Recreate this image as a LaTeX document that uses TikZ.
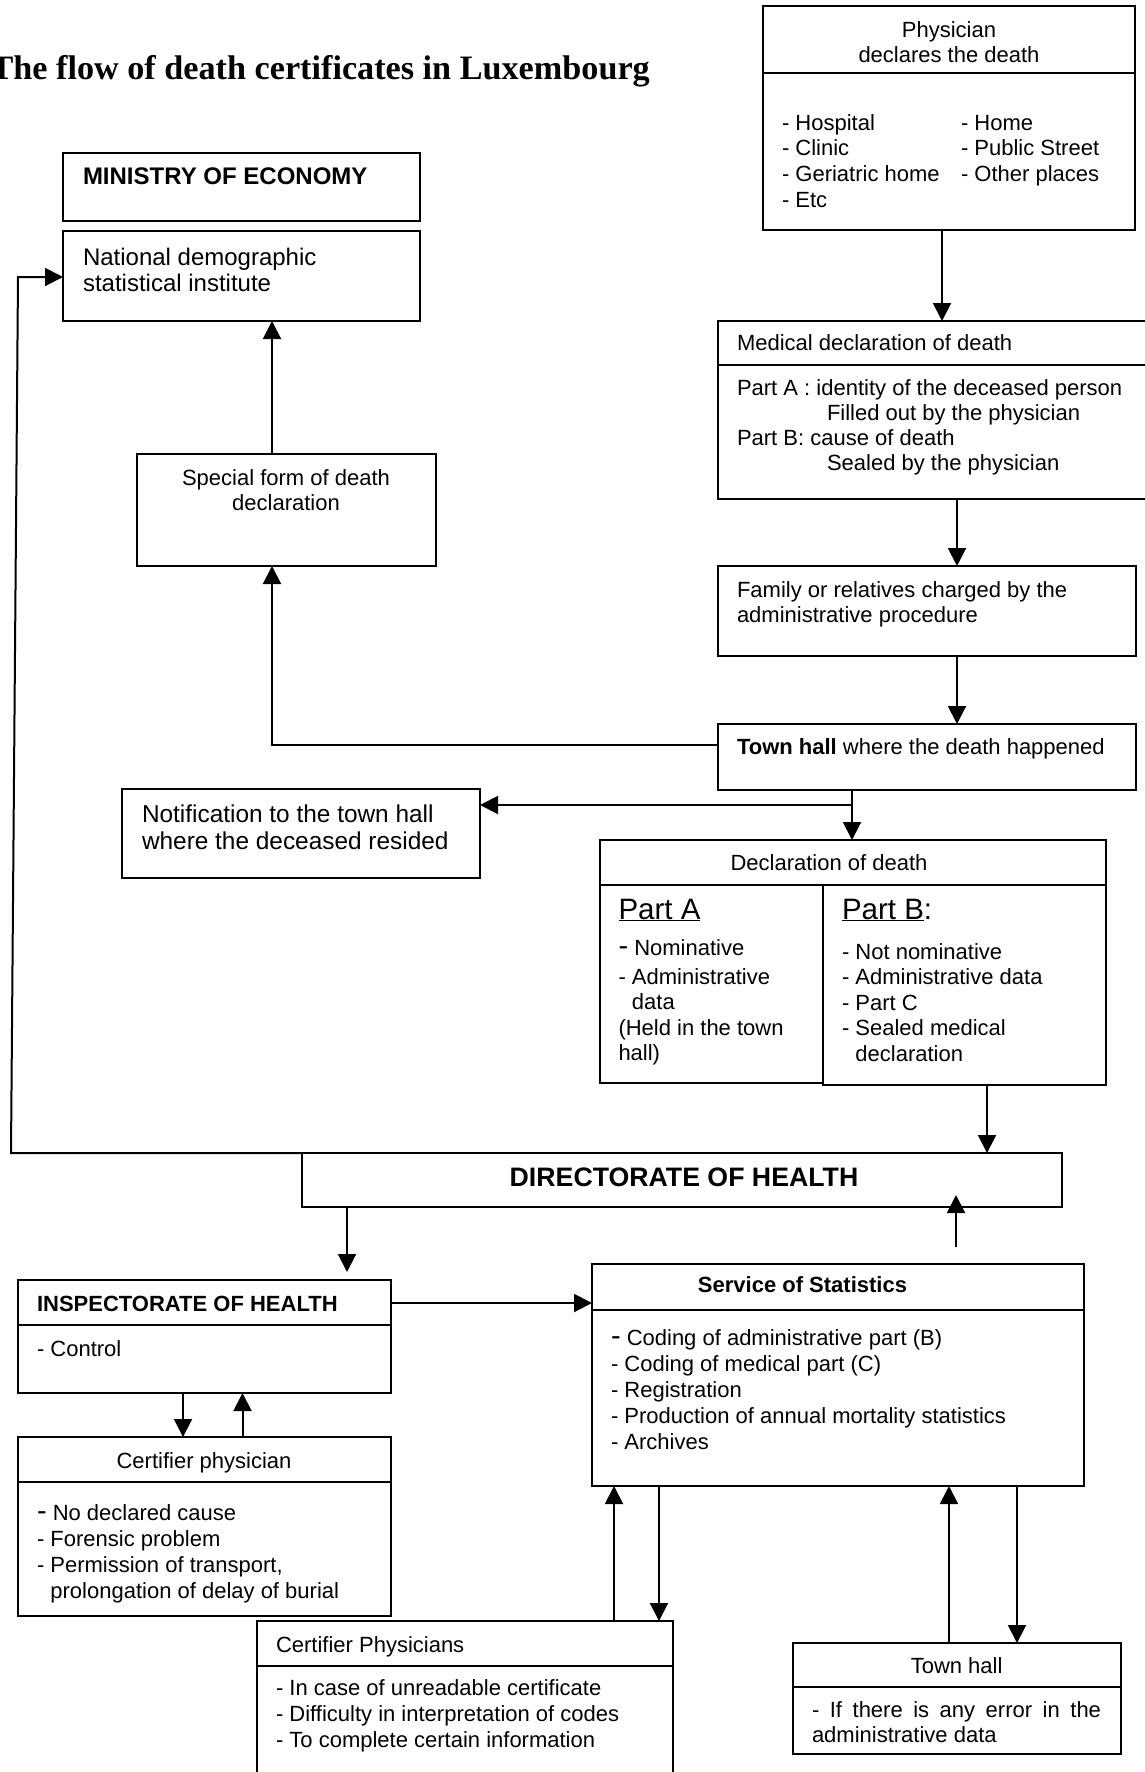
\documentclass[tikz,border=0pt]{standalone}
\usepackage{fontspec}
\setmainfont{Liberation Sans}
\newfontfamily\serifttl{Liberation Serif}
\usetikzlibrary{arrows.meta}
\newcommand\lns[2][l]{\begin{tabular}[t]{@{}#1@{}}#2\end{tabular}}
\newcommand\bigdash{{\fontsize{29}{29}\selectfont -}}
\newcommand\mybox[5]{\pgfmathsetmacro\bw{#4-#2}\pgfmathsetmacro\bh{#5-#3}%
  \node[box,anchor=north west,minimum width=\bw pt,minimum height=\bh pt] (#1) at (#2,#3) {};}
\tikzset{
  box/.style={draw,line width=2pt,inner sep=0pt,outer sep=0pt},
  ln/.style={line width=2pt},
  arr/.style={line width=2pt,-{Triangle[length=18pt,width=18pt]}},
  txt/.style={inner sep=0pt,outer sep=0pt,anchor=base west,font=\fontsize{22}{25.6}\selectfont},
}
\begin{document}
\begin{tikzpicture}[x=1pt,y=-1pt]
\useasboundingbox (0,0) rectangle (1144,1772);

% title
\node[inner sep=0pt,anchor=base east,font=\serifttl\bfseries\fontsize{34.2}{36}\selectfont] (title) at (650,79) {The flow of death certificates in Luxembourg};

% boxes
\mybox{ministry}{63}{153}{420}{221}
\mybox{nat}{63}{231}{420}{321}
\mybox{phys}{763}{6}{1135}{230}
\draw[ln] (763,73) -- (1135,73);
\mybox{med}{718}{321}{1150}{499}
\draw[ln] (718,365) -- (1150,365);
\mybox{special}{137}{454}{436}{566}
\mybox{family}{718}{566}{1136}{656}
\mybox{town}{718}{724}{1136}{790}
\mybox{notif}{122}{789}{480}{878}
\mybox{decl}{600}{840}{1106}{885}
\mybox{declA}{600}{885}{823}{1083}
\mybox{declB}{823}{885}{1106}{1085}
\mybox{dir}{302}{1153}{1062}{1207}
\mybox{insp}{18}{1280}{391}{1393}
\draw[ln] (18,1325) -- (391,1325);
\mybox{cert}{18}{1437}{391}{1616}
\draw[ln] (18,1482) -- (391,1482);
\mybox{svc}{592}{1264}{1084}{1486}
\draw[ln] (592,1310) -- (1084,1310);
\mybox{certs}{257}{1621}{673}{1785}
\draw[ln] (257,1666) -- (673,1666);
\mybox{townb}{793}{1643}{1121}{1754}
\draw[ln] (793,1687) -- (1121,1687);

% texts
\node[txt,font=\bfseries\fontsize{24}{26}\selectfont] (tmin) at (83,184) {MINISTRY OF ECONOMY};
\node[txt,font=\fontsize{24}{26}\selectfont] (tnat) at (83,265) {\lns{National demographic\\statistical institute}};
\node[txt,anchor=base,font=\fontsize{22}{25}\selectfont] (tphys) at (949,37) {\lns[c]{Physician\\declares the death}};
\node[txt,font=\fontsize{22}{25.7}\selectfont] (tpl1) at (782,130) {\lns{- Hospital\\- Clinic\\- Geriatric home\\- Etc}};
\node[txt,font=\fontsize{22}{25.7}\selectfont] (tpl2) at (961,130) {\lns{- Home\\- Public Street\\- Other places}};
\node[txt] (tmed) at (737,350) {Medical declaration of death};
\node[txt,font=\fontsize{22}{25.3}\selectfont] (tmedb) at (737,395) {\lns{Part A : identity of the deceased person\\\hspace*{90pt}Filled out by the physician\\Part B: cause of death\\\hspace*{90pt}Sealed by the physician}};
\node[txt,anchor=base,font=\fontsize{22}{25}\selectfont] (tspec) at (286,485) {\lns[c]{Special form of death\\declaration}};
\node[txt,font=\fontsize{22}{25.5}\selectfont] (tfam) at (737,597) {\lns{Family or relatives charged by the\\administrative procedure}};
\node[txt] (ttown) at (737,754) {\textbf{Town hall} where the death happened};
\node[txt,font=\fontsize{24.4}{27}\selectfont] (tnotif) at (142,822) {\lns{Notification to the town hall\\where the deceased resided}};
\node[txt,anchor=base] (tdecl) at (829,870) {Declaration of death};
\node[txt,font=\fontsize{29.5}{30}\selectfont] (tpa) at (618.5,919) {\underline{Part A}};
\node[txt] (tpa1) at (618.5,955) {\bigdash{} Nominative};
\node[txt,font=\fontsize{22}{25.5}\selectfont] (tpa2) at (618.5,984) {\lns{- Administrative\\\phantom{- }data\\(Held in the town\\hall)}};
\node[txt,font=\fontsize{29.5}{30}\selectfont] (tpb) at (842,919) {\underline{Part B}:};
\node[txt,font=\fontsize{22}{25.5}\selectfont] (tpb1) at (842,959) {\lns{- Not nominative\\- Administrative data\\- Part C\\- Sealed medical\\\phantom{- }declaration}};
\node[txt,anchor=base,font=\bfseries\fontsize{26.7}{28}\selectfont] (tdir) at (684,1186) {DIRECTORATE OF HEALTH};
\node[txt,font=\bfseries\fontsize{22}{25.6}\selectfont] (tinsp) at (37,1311) {INSPECTORATE OF HEALTH};
\node[txt] (tctrl) at (37,1356) {- Control};
\node[txt,anchor=base] (tcert) at (204,1468) {Certifier physician};
\node[txt,font=\fontsize{22}{26}\selectfont] (tcertb) at (37,1520) {\lns{\bigdash{} No declared cause\\- Forensic problem\\- Permission of transport,\\\phantom{- }prolongation of delay of burial}};
\node[txt,anchor=base,font=\bfseries\fontsize{22}{25.6}\selectfont] (tsvc) at (802.5,1292) {Service of Statistics};
\node[txt,font=\fontsize{22}{26}\selectfont] (tsvcb) at (611,1345) {\lns{\bigdash{} Coding of administrative part (B)\\- Coding of medical part (C)\\- Registration\\- Production of annual mortality statistics\\- Archives}};
\node[txt] (tcerts) at (276,1652) {Certifier Physicians};
\node[txt,font=\fontsize{22}{26}\selectfont] (tcertsb) at (276,1695) {\lns{- In case of unreadable certificate\\- Difficulty in interpretation of codes\\- To complete certain information}};
\node[txt,anchor=base] (ttownb) at (956.6,1673) {Town hall};
\node[txt,font=\fontsize{22}{24.5}\selectfont] (ttownbb) at (812,1717.5) {\lns{\makebox[289pt][s]{- If there is any error in the}\\administrative data}};

% helper coordinates
\coordinate (xa) at (942,0);
\coordinate (xb) at (957,0);
\coordinate (xsp) at (272,0);
\coordinate (yb) at (0,745);
\coordinate (xt) at (852,0);
\coordinate (br) at (852,805);
\coordinate (xd) at (987,0);
\coordinate (c1) at (11,1153);
\coordinate (c2) at (18,277);
\coordinate (xi) at (347,0);
\coordinate (ti) at (347,1272);
\coordinate (s0) at (956,1247);
\coordinate (s1) at (956,1195);
\coordinate (yis) at (0,1303);
\coordinate (xc1) at (183,0);
\coordinate (xc2) at (242.5,0);
\coordinate (xp1) at (614,0);
\coordinate (xp2) at (659,0);
\coordinate (xw1) at (949,0);
\coordinate (xw2) at (1017,0);

% connectors
\draw[arr] (phys.south -| xa) -- (med.north -| xa);
\draw[arr] (med.south -| xb) -- (family.north -| xb);
\draw[arr] (family.south -| xb) -- (town.north -| xb);
\draw[arr] (town.west |- yb) -| (special.south -| xsp);
\draw[arr] (special.north -| xsp) -- (nat.south -| xsp);
\draw[arr] (town.south -| xt) -- (decl.north -| xt);
\draw[arr] (br) -- (notif.east |- br);
\draw[arr] (declB.south -| xd) -- (dir.north -| xd);
\draw[arr] (dir.north west) -- (c1) -- (c2) -- (nat.west |- c2);
\draw[arr] (dir.south -| xi) -- (ti);
\draw[arr] (s0) -- (s1);
\draw[arr] (insp.east |- yis) -- (svc.west |- yis);
\draw[arr] (insp.south -| xc1) -- (cert.north -| xc1);
\draw[arr] (cert.north -| xc2) -- (insp.south -| xc2);
\draw[arr] (certs.north -| xp1) -- (svc.south -| xp1);
\draw[arr] (svc.south -| xp2) -- (certs.north -| xp2);
\draw[arr] (townb.north -| xw1) -- (svc.south -| xw1);
\draw[arr] (svc.south -| xw2) -- (townb.north -| xw2);
\end{tikzpicture}
\end{document}
